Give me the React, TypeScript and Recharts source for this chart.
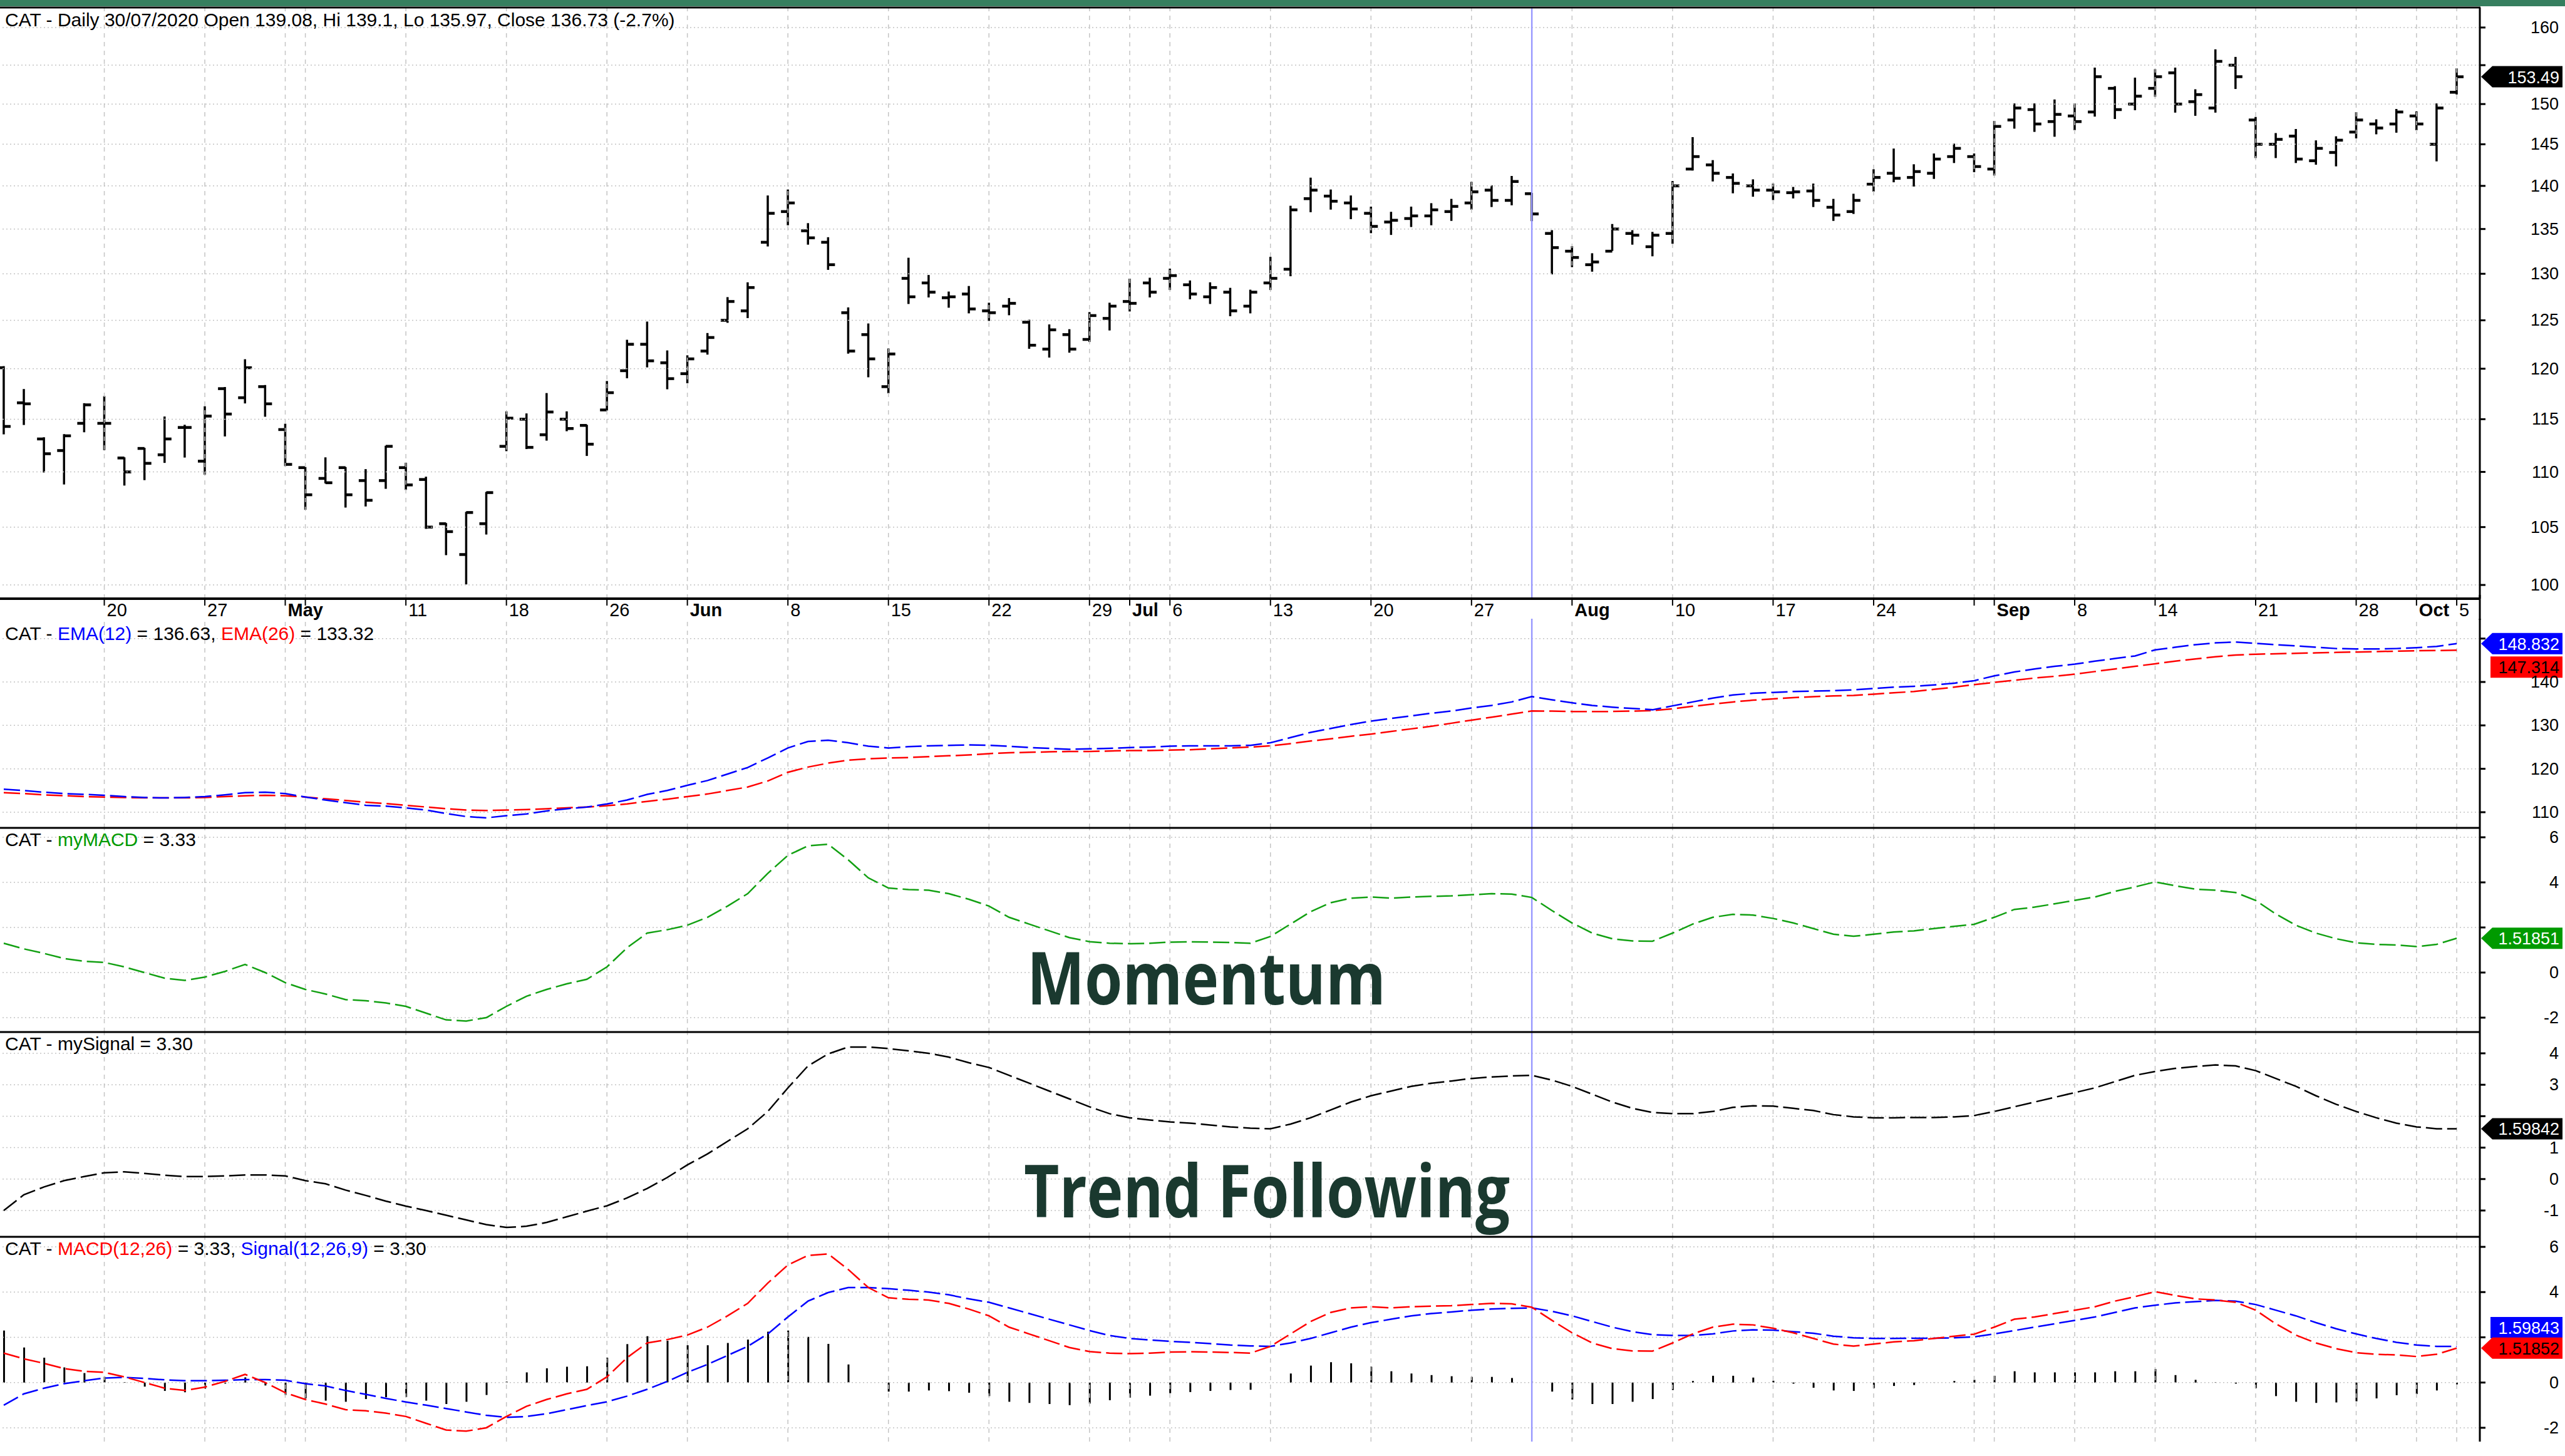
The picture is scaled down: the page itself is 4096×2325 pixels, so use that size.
import React from 'react'
import { ComposedChart, Bar, Line, XAxis, YAxis, ReferenceLine, ReferenceDot } from 'recharts'

const FONT = '"Liberation Sans", Arial, sans-serif'

// bar index (0 = 13 Apr 2020) of each x tick, and its label ('' = grid line only)
const X_TICKS = [5, 10, 14, 15, 20, 25, 30, 34, 39, 44, 49, 54, 56, 58, 63, 68, 73, 78, 83, 88, 93, 98, 99, 103, 107, 112, 117, 120, 122]
const X_LABELS = ['20', '27', 'May', '', '11', '18', '26', 'Jun', '8', '15', '22', '29', 'Jul', '6', '13', '20', '27', 'Aug', '10', '17', '24', '', 'Sep', '8', '14', '21', '28', 'Oct', '5']
const MONTHS = ['May', 'Jun', 'Jul', 'Aug', 'Sep', 'Oct']
const SELECTED = 76

// daily OHLC, CAT 13 Apr - 5 Oct 2020
const OPEN = [
    120.1, 116.6, 113.1, 112.0, 114.6, 114.6, 111.3, 112.2, 111.6, 114.2, 111.0, 118.0, 117.1, 118.2, 114.0, 110.4, 109.4, 110.4, 109.2, 109.2, 110.4, 109.3, 105.3, 102.6, 105.3, 112.4, 115.0, 113.5, 115.0, 114.4, 115.9,
    119.8, 122.5, 120.6, 119.5, 121.8, 125.0, 126.0, 133.5, 137.0, 134.8,
    133.5, 125.8, 123.5, 118.2, 129.5, 129.0, 127.4, 127.8, 126.0, 126.5,
    124.8, 122.0, 123.5, 123.0, 125.2, 127.0, 129.0, 129.5, 128.8, 127.5,
    128.0, 126.5, 129.0, 130.5, 138.5, 138.8, 138.0, 136.8, 135.8, 136.2,
    136.5, 137.0, 138.0, 139.5, 138.3, 139.08, 134.5, 132.5, 131.0, 132.5,
    134.5, 133.0, 134.5, 142.0, 142.5, 141.0, 140.0, 139.5, 139.2, 139.4,
    137.5, 137.0, 140.2, 141.5, 141.0, 141.5, 143.5, 143.5, 142.0, 148.0,
    149.3, 147.8, 148.5, 149.0, 152.0, 150.0, 152.0, 154.0, 150.3, 149.5,
    155.0, 148.0, 145.0, 146.0, 143.0, 144.0, 146.5, 147.5, 147.5, 148.5,
    145.0, 151.5,
]
const HIGH = [
    120.2, 117.9, 113.2, 113.5, 116.5, 117.2, 111.3, 112.2, 115.2, 114.4, 116.2, 118.1, 120.9, 118.3, 114.5, 110.4, 111.3, 110.4, 110.2, 112.4, 110.8, 109.5, 105.3, 106.3, 108.1, 115.7, 115.5, 117.5, 115.7, 114.4, 118.7,
    122.9, 124.8, 121.8, 121.3, 123.6, 127.4, 129.0, 138.8, 139.5, 135.6,
    134.0, 126.3, 124.6, 122.0, 131.7, 129.8, 128.0, 128.6, 126.8, 127.3,
    125.0, 124.5, 124.0, 125.8, 126.8, 129.4, 129.5, 130.5, 129.2, 129.0,
    128.4, 128.2, 131.8, 137.6, 140.9, 139.5, 138.8, 137.5, 136.9, 137.5,
    137.9, 138.4, 140.4, 140.0, 141.1, 139.1, 134.8, 133.0, 132.2, 135.5,
    134.8, 134.6, 140.5, 145.8, 143.0, 141.4, 140.7, 140.2, 139.8, 140.2,
    138.4, 139.0, 141.9, 144.4, 142.5, 143.8, 145.0, 143.8, 147.8, 150.0,
    150.0, 150.5, 150.0, 154.6, 152.2, 153.3, 154.4, 154.6, 151.8, 157.0,
    156.0, 148.3, 146.3, 146.8, 145.4, 145.9, 148.9, 148.0, 149.3, 149.0,
    150.0, 154.5,
]
const LOW = [
    113.6, 114.5, 110.0, 108.9, 113.8, 112.1, 108.8, 109.3, 110.9, 111.4, 109.8, 113.4, 116.6, 115.3, 110.6, 106.6, 109.0, 106.8, 106.9, 108.5, 108.4, 104.9, 102.6, 100.1, 104.4, 112.0, 112.2, 113.0, 113.9, 111.55, 115.9,
    119.1, 120.2, 118.0, 118.6, 121.5, 124.8, 125.3, 133.1, 135.5, 133.3,
    130.5, 121.6, 119.2, 117.6, 126.8, 127.5, 126.4, 125.8, 125.0, 125.6,
    122.1, 121.2, 121.7, 122.8, 124.0, 126.0, 127.5, 128.3, 127.3, 126.8,
    125.5, 125.8, 128.3, 129.8, 137.0, 137.3, 136.2, 134.6, 134.4, 135.3,
    135.5, 136.0, 137.3, 137.6, 137.8, 135.97, 130.0, 130.8, 130.3, 132.6,
    133.3, 132.0, 133.4, 141.9, 140.6, 139.2, 138.8, 138.4, 138.6, 137.6,
    136.0, 136.8, 139.4, 140.5, 140.0, 140.9, 142.8, 141.7, 141.3, 147.0,
    146.6, 146.0, 146.8, 148.5, 148.2, 149.3, 151.0, 149.0, 148.6, 149.0,
    152.0, 143.4, 143.4, 142.8, 142.6, 142.4, 145.8, 146.3, 146.5, 146.8,
    143.0, 151.3,
]
const CLOSE = [
    114.3, 116.5, 111.7, 113.4, 116.4, 114.6, 110.0, 110.8, 113.1, 114.2, 115.3, 115.5, 120.1, 116.5, 110.7, 107.9, 109.0, 107.9, 107.4, 112.4, 108.8, 105.0, 104.6, 106.3, 108.1, 115.1, 112.3, 115.7, 114.1, 112.6, 117.6,
    122.5, 120.8, 119.0, 121.0, 123.2, 127.0, 128.5, 136.8, 138.0, 134.0,
    131.0, 121.8, 121.0, 121.5, 127.5, 128.0, 127.5, 126.2, 125.8, 126.8,
    122.4, 124.0, 122.0, 125.5, 126.5, 126.8, 128.0, 129.8, 127.8, 128.5,
    126.0, 128.0, 129.5, 137.2, 139.5, 138.2, 137.3, 135.3, 136.0, 136.5,
    137.2, 137.6, 139.3, 138.3, 140.52, 136.73, 132.9, 131.8, 131.3, 135.0,
    134.3, 134.3, 140.0, 143.5, 141.5, 140.3, 139.5, 139.3, 139.3, 138.3,
    136.6, 138.3, 141.0, 140.9, 141.7, 143.2, 144.5, 142.3, 147.2, 149.5,
    147.5, 148.7, 147.8, 153.5, 149.3, 151.0, 153.5, 150.0, 151.2, 155.5,
    153.5, 145.0, 145.6, 143.2, 144.5, 145.5, 148.0, 147.0, 149.0, 147.5,
    149.5, 153.49,
]

const EMA12 = [
    115.3, 115.0, 114.6, 114.3, 114.1, 113.9, 113.6, 113.4, 113.3, 113.4, 113.6,
    114.0, 114.5, 114.6, 114.3, 113.5, 112.8, 112.2, 111.6, 111.4, 111.0,
    110.5, 109.7, 109.0, 108.7, 109.2, 109.6, 110.3, 110.8, 111.2, 111.9,
    112.8, 114.1, 115.0, 116.2, 117.3, 118.8, 120.3, 122.5, 124.8, 126.3,
    126.6, 126.0, 125.2, 124.8, 125.1, 125.3, 125.4, 125.5, 125.4, 125.2,
    124.9, 124.7, 124.5, 124.6, 124.7, 124.9, 125.0, 125.2, 125.3, 125.3,
    125.3, 125.4, 126.0, 127.2, 128.4, 129.3, 130.2, 131.0, 131.6, 132.2,
    132.8, 133.3, 134.0, 134.6, 135.4, 136.63, 135.9, 135.2, 134.6, 134.2,
    133.9, 133.6, 134.5, 135.4, 136.3, 137.0, 137.4, 137.6, 137.8, 137.9,
    138.0, 138.2, 138.5, 138.8, 139.0, 139.3, 139.7, 140.3, 141.4, 142.3,
    143.0, 143.6, 144.1, 144.8, 145.4, 146.0, 147.4, 148.0, 148.6, 149.0,
    149.2, 148.9, 148.6, 148.3, 148.0, 147.7, 147.6, 147.6, 147.7, 147.9,
    148.2, 148.83,
]
const EMA26 = [
    114.5, 114.3, 114.0, 113.8, 113.6, 113.5, 113.4, 113.3, 113.3, 113.3, 113.4,
    113.6, 113.8, 113.9, 113.8, 113.5, 113.1, 112.7, 112.3, 112.0, 111.6,
    111.2, 110.8, 110.5, 110.4, 110.5, 110.6, 110.8, 111.0, 111.2, 111.5,
    111.9, 112.5, 113.0, 113.6, 114.2, 115.0, 115.8, 117.2, 119.2, 120.4,
    121.3, 122.0, 122.3, 122.5, 122.6, 122.8, 123.0, 123.2, 123.5, 123.7,
    123.8, 123.9, 124.0, 124.0, 124.1, 124.2, 124.2, 124.3, 124.4, 124.6,
    124.8, 125.0, 125.3, 125.8, 126.4, 126.9, 127.5, 128.0, 128.6, 129.2,
    129.8, 130.5, 131.2, 131.9, 132.6, 133.32, 133.3, 133.2, 133.2, 133.2,
    133.3, 133.4, 133.8, 134.4, 134.9, 135.4, 135.8, 136.1, 136.4, 136.6,
    136.8, 136.9, 137.2, 137.5, 137.8, 138.3, 138.8, 139.4, 139.9, 140.4,
    140.9, 141.3, 141.8, 142.4, 143.0, 143.6, 144.2, 144.8, 145.3, 145.8,
    146.2, 146.4, 146.5, 146.6, 146.7, 146.8, 146.9, 147.0, 147.1, 147.2,
    147.25, 147.31,
]

// MACD(12,26) line (same values in the myMACD pane and the MACD pane)
const MACD = [
    1.30, 1.05, 0.85, 0.62, 0.50, 0.45, 0.25, 0.0, -0.25, -0.35, -0.20,
    0.05, 0.36, 0.0, -0.45, -0.75, -0.95, -1.2, -1.25, -1.35, -1.5,
    -1.8, -2.1, -2.15, -2.0, -1.5, -1.05, -0.75, -0.5, -0.3, 0.25,
    1.1, 1.75, 1.9, 2.1, 2.45, 2.95, 3.5, 4.4, 5.2, 5.62,
    5.69, 5.0, 4.2, 3.75, 3.68, 3.65, 3.5, 3.25, 2.95, 2.45,
    2.15, 1.85, 1.55, 1.37, 1.3, 1.28, 1.3, 1.35, 1.36, 1.35,
    1.33, 1.3, 1.6, 2.15, 2.7, 3.1, 3.3, 3.35, 3.3, 3.35,
    3.38, 3.4, 3.45, 3.5, 3.48, 3.33, 2.75, 2.2, 1.75, 1.5,
    1.4, 1.39, 1.75, 2.15, 2.45, 2.58, 2.55, 2.4, 2.2, 1.95,
    1.7, 1.61, 1.7, 1.8, 1.85, 1.95, 2.05, 2.14, 2.45, 2.8,
    2.9, 3.05, 3.2, 3.35, 3.6, 3.8, 4.02, 3.85, 3.7, 3.65,
    3.55, 3.2, 2.6, 2.1, 1.75, 1.5, 1.32, 1.25, 1.22, 1.15,
    1.25, 1.52,
]
// Signal(12,26,9) line (same values in the mySignal pane and the MACD pane)
const SIGNAL = [
    -1.0, -0.5, -0.25, -0.05, 0.08, 0.2, 0.23, 0.18, 0.12, 0.08, 0.08,
    0.1, 0.13, 0.13, 0.1, -0.05, -0.15, -0.35, -0.52, -0.7, -0.86,
    -1.0, -1.15, -1.3, -1.45, -1.54, -1.5, -1.38, -1.2, -1.02, -0.85,
    -0.6, -0.3, 0.05, 0.45, 0.8, 1.2, 1.6, 2.15, 2.9, 3.6,
    3.98, 4.2, 4.2, 4.15, 4.08, 4.0, 3.88, 3.7, 3.55, 3.3,
    3.05, 2.8, 2.55, 2.3, 2.08, 1.95, 1.88, 1.82, 1.78, 1.72,
    1.66, 1.62, 1.6, 1.75, 1.95, 2.2, 2.45, 2.65, 2.8, 2.95,
    3.05, 3.12, 3.2, 3.25, 3.28, 3.30, 3.15, 2.95, 2.7, 2.45,
    2.25, 2.12, 2.08, 2.08, 2.15, 2.28, 2.33, 2.32, 2.25, 2.18,
    2.05, 1.98, 1.95, 1.95, 1.96, 1.96, 1.98, 2.02, 2.15, 2.3,
    2.45, 2.6, 2.75, 2.9, 3.1, 3.3, 3.42, 3.52, 3.58, 3.63,
    3.6, 3.45, 3.2, 2.95, 2.65, 2.38, 2.15, 1.95, 1.78, 1.66,
    1.6, 1.6,
]
const HIST = [
    2.3, 1.55, 1.1, 0.67, 0.42, 0.25, 0.02, -0.18, -0.37, -0.43, -0.28,
    -0.05, 0.23, -0.13, -0.55, -0.7, -0.8, -0.85, -0.73, -0.65, -0.64,
    -0.8, -0.95, -0.85, -0.55, 0.04, 0.45, 0.63, 0.7, 0.72, 1.1,
    1.7, 2.05, 1.85, 1.65, 1.65, 1.75, 1.9, 2.25, 2.3, 2.02,
    1.71, 0.8, 0.0, -0.4, -0.4, -0.35, -0.38, -0.45, -0.6, -0.85,
    -0.9, -0.95, -1.0, -0.93, -0.78, -0.67, -0.58, -0.47, -0.42, -0.37,
    -0.33, -0.32, 0.0, 0.4, 0.75, 0.9, 0.85, 0.7, 0.5, 0.4,
    0.33, 0.28, 0.25, 0.25, 0.2, 0.03, -0.4, -0.75, -0.95, -0.95,
    -0.85, -0.73, -0.33, 0.07, 0.3, 0.3, 0.22, 0.08, -0.05, -0.23,
    -0.35, -0.37, -0.25, -0.15, -0.11, -0.01, 0.07, 0.12, 0.3, 0.5,
    0.45, 0.45, 0.45, 0.45, 0.5, 0.5, 0.6, 0.33, 0.12, 0.02,
    -0.05, -0.25, -0.6, -0.85, -0.9, -0.88, -0.83, -0.7, -0.56, -0.51,
    -0.35, -0.08,
]

const ROWS = OPEN.map((o, i) => ({
    i,
    open: o,
    high: HIGH[i],
    low: LOW[i],
    close: CLOSE[i],
    range: [LOW[i], HIGH[i]],
    ema12: EMA12[i],
    ema26: EMA26[i],
    macd: MACD[i],
    signal: SIGNAL[i],
    hist: HIST[i],
}))

const W = 4096
const H = 2325
const PLOT_R = 3960
const X_DOMAIN: [number, number] = [-0.187, 123.15]
const GRID = '#c4c4c4'
const LAST = OPEN.length - 1

const OhlcShape = (props: any) => {
    const { x, y, width, height, payload } = props
    if (x == null || y == null) return null
    const cx = x + width / 2
    const yH = y
    const yL = y + height
    const lh = Math.log(payload.high)
    const ll = Math.log(payload.low)
    const toY = (v: number) => (lh === ll ? yH : yH + ((lh - Math.log(v)) / (lh - ll)) * (yL - yH))
    const yo = toY(payload.open)
    const yc = toY(payload.close)
    return (
        <g stroke="#000">
            <line x1={cx} x2={cx} y1={yH - 1} y2={yL + 1} strokeWidth={3.5} />
            <line x1={cx - 11} x2={cx} y1={yo} y2={yo} strokeWidth={4.5} />
            <line x1={cx} x2={cx + 11} y1={yc} y2={yc} strokeWidth={4.5} />
        </g>
    )
}

const rightTick = (hidden: number[]) => (props: any) => {
    const { y, payload } = props
    return (
        <g>
            <line x1={PLOT_R} x2={PLOT_R + 9} y1={y} y2={y} stroke="#000" strokeWidth={3} />
            {!hidden.includes(payload.value) && (
                <text x={W - 10} y={y} textAnchor="end" dominantBaseline="central" fontSize={27} fontFamily={FONT} fill="#000">
                    {payload.value}
                </text>
            )}
        </g>
    )
}

const XTick = (props: any) => {
    const { x, y, payload } = props
    const label = X_LABELS[X_TICKS.indexOf(payload.value)] || ''
    return (
        <g>
            <line x1={x} x2={x} y1={y} y2={y + 11} stroke="#000" strokeWidth={2} />
            {label && (
                <text x={x + 4} y={y + 18} dominantBaseline="central" fontSize={29} fontFamily={FONT}
                    fontWeight={MONTHS.includes(label) ? 700 : 400} fill="#000">
                    {label}
                </text>
            )}
        </g>
    )
}

// value tag on the right axis
const badge = (text: string, fill: string, color: string, pointed: boolean, dy = 0) => (p: any) => {
    const { cx, cy } = p
    const c = cy + dy
    const h = 34
    const r = 4092
    const d = pointed
        ? `M${cx + 2},${c} L${cx + 20},${c - h / 2} L${r},${c - h / 2} L${r},${c + h / 2} L${cx + 20},${c + h / 2} Z`
        : `M${cx + 17},${c - h / 2} L${r},${c - h / 2} L${r},${c + h / 2} L${cx + 17},${c + h / 2} Z`
    return (
        <g>
            <path d={d} fill={fill} />
            <text x={r - 5} y={c + 1} textAnchor="end" dominantBaseline="central" fontSize={27} fontFamily={FONT} fill={color}>
                {text}
            </text>
        </g>
    )
}

interface PaneProps {
    top: number
    height: number
    domain: [number, number]
    ticks: number[]
    hidden?: number[]
    log?: boolean
    showX?: boolean
    children?: React.ReactNode
}

function Pane({ top, height, domain, ticks, hidden = [], log = false, showX = false, children }: PaneProps) {
    return (
        <div style={{ position: 'absolute', left: 0, top, width: W, height }}>
            <ComposedChart width={W} height={height} data={ROWS} margin={{ top: 0, right: 0, bottom: 0, left: 0 }}>
                <XAxis
                    dataKey="i"
                    type="number"
                    domain={X_DOMAIN}
                    allowDataOverflow
                    ticks={X_TICKS}
                    interval={0}
                    hide={!showX}
                    height={showX ? 34 : 0}
                    tickSize={0}
                    tickMargin={0}
                    tickLine={false}
                    axisLine={{ stroke: '#000', strokeWidth: 4 }}
                    tick={<XTick />}
                />
                <YAxis
                    orientation="right"
                    width={W - PLOT_R}
                    type="number"
                    scale={log ? 'log' : 'linear'}
                    domain={domain}
                    allowDataOverflow
                    ticks={ticks}
                    interval={0}
                    axisLine={{ stroke: '#000', strokeWidth: 3 }}
                    tickLine={false}
                    tick={rightTick(hidden)}
                />
                {X_TICKS.map((t) => (
                    <ReferenceLine key={`vx${t}`} x={t} stroke={GRID} strokeDasharray="7 7" strokeWidth={1.5} />
                ))}
                {ticks.map((v) => (
                    <ReferenceLine key={`hy${v}`} y={v} stroke={GRID} strokeDasharray="2 4" strokeWidth={1.5} />
                ))}
                <ReferenceLine x={SELECTED} stroke="#9a9aff" strokeWidth={2.5} />
                {children}
            </ComposedChart>
        </div>
    )
}

const Title = ({ y, children }: { y: number; children: React.ReactNode }) => (
    <text x={8} y={y} dominantBaseline="central" fontSize={30} fontFamily={FONT} fill="#000">
        {children}
    </text>
)

export default function App() {
    const dash = '26 8'
    return (
        <div style={{ position: 'absolute', left: 0, top: 0, width: W, height: H, background: '#fff', overflow: 'hidden' }}>
            <Pane top={12} height={978} domain={[98.85, 162.72]} log showX
                ticks={[100, 105, 110, 115, 120, 125, 130, 135, 140, 145, 150, 155, 160]} hidden={[155]}>
                <Bar dataKey="range" barSize={22} shape={OhlcShape} isAnimationActive={false} />
                <ReferenceDot x={X_DOMAIN[1]} y={CLOSE[LAST]} ifOverflow="visible"
                    shape={badge(CLOSE[LAST].toFixed(2), '#000', '#fff', true)} />
            </Pane>

            <Pane top={988} height={334} domain={[106.39, 154.57]} ticks={[110, 120, 130, 140, 150]} hidden={[150]}>
                <Line dataKey="ema26" stroke="#ff0000" strokeWidth={2.5} strokeDasharray={dash} dot={false} isAnimationActive={false} />
                <Line dataKey="ema12" stroke="#0000ff" strokeWidth={2.5} strokeDasharray={dash} dot={false} isAnimationActive={false} />
                <ReferenceDot x={X_DOMAIN[1]} y={EMA12[LAST]} ifOverflow="visible" shape={badge('148.832', '#0000ff', '#fff', true)} />
                <ReferenceDot x={X_DOMAIN[1]} y={EMA26[LAST]} ifOverflow="visible" shape={badge('147.314', '#ff0000', '#000', false, 27)} />
            </Pane>

            <Pane top={1322} height={326} domain={[-2.639, 6.417]} ticks={[-2, 0, 2, 4, 6]} hidden={[2]}>
                <Line dataKey="macd" stroke="#12a012" strokeWidth={2.5} strokeDasharray={dash} dot={false} isAnimationActive={false} />
                <ReferenceDot x={X_DOMAIN[1]} y={MACD[LAST]} ifOverflow="visible" shape={badge('1.51851', '#009a00', '#fff', true)} />
            </Pane>

            <Pane top={1648} height={327} domain={[-1.837, 4.677]} ticks={[-1, 0, 1, 2, 3, 4]} hidden={[2]}>
                <Line dataKey="signal" stroke="#000" strokeWidth={2.5} strokeDasharray={dash} dot={false} isAnimationActive={false} />
                <ReferenceDot x={X_DOMAIN[1]} y={SIGNAL[LAST]} ifOverflow="visible" shape={badge('1.59842', '#000', '#fff', true)} />
            </Pane>

            <Pane top={1975} height={327} domain={[-2.611, 6.444]} ticks={[-2, 0, 2, 4, 6]} hidden={[2]}>
                <Bar dataKey="hist" barSize={3} fill="#000" isAnimationActive={false} />
                <Line dataKey="signal" stroke="#0000ff" strokeWidth={2.5} strokeDasharray={dash} dot={false} isAnimationActive={false} />
                <Line dataKey="macd" stroke="#ff0000" strokeWidth={2.5} strokeDasharray={dash} dot={false} isAnimationActive={false} />
                <ReferenceDot x={X_DOMAIN[1]} y={SIGNAL[LAST]} ifOverflow="visible" shape={badge('1.59843', '#0000ff', '#fff', false, -30)} />
                <ReferenceDot x={X_DOMAIN[1]} y={MACD[LAST]} ifOverflow="visible" shape={badge('1.51852', '#ff0000', '#000', true)} />
            </Pane>

            <svg width={W} height={H} style={{ position: 'absolute', left: 0, top: 0, pointerEvents: 'none' }}>
                <rect x={0} y={0} width={W} height={10} fill="#367f5f" />
                <line x1={0} x2={PLOT_R + 1} y1={12} y2={12} stroke="#000" strokeWidth={3} />
                <line x1={PLOT_R} x2={PLOT_R} y1={950} y2={990} stroke="#000" strokeWidth={3} />
                {[1322, 1648, 1975].map((y) => (
                    <line key={y} x1={0} x2={PLOT_R + 1} y1={y} y2={y} stroke="#000" strokeWidth={3} />
                ))}

                <Title y={31}>CAT - Daily 30/07/2020 Open 139.08, Hi 139.1, Lo 135.97, Close 136.73 (-2.7%)</Title>
                <Title y={1011}>
                    CAT - <tspan fill="#0000ff">EMA(12)</tspan> = 136.63, <tspan fill="#ff0000">EMA(26)</tspan> = 133.32
                </Title>
                <Title y={1340}>
                    CAT - <tspan fill="#009a00">myMACD</tspan> = 3.33
                </Title>
                <Title y={1666}>CAT - mySignal = 3.30</Title>
                <Title y={1993}>
                    CAT - <tspan fill="#ff0000">MACD(12,26)</tspan> = 3.33, <tspan fill="#0000ff">Signal(12,26,9)</tspan> = 3.30
                </Title>

                <text x={1640} y={1604} fontSize={116} fontWeight={700} fontFamily='"Open Sans", "Noto Sans", sans-serif'
                    fill="#1a392f" textLength={573} lengthAdjust="spacingAndGlyphs">
                    Momentum
                </text>
                <text x={1635} y={1944} fontSize={116} fontWeight={700} fontFamily='"Open Sans", "Noto Sans", sans-serif'
                    fill="#1a392f" textLength={776} lengthAdjust="spacingAndGlyphs">
                    Trend Following
                </text>
            </svg>
        </div>
    )
}
